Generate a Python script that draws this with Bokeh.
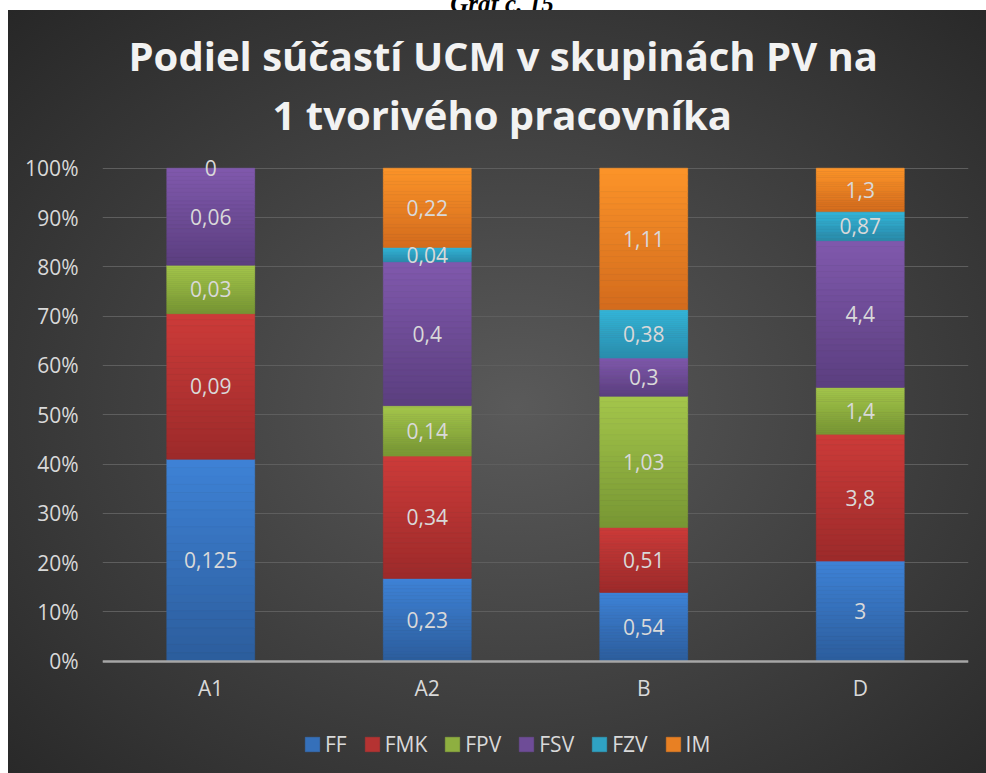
from bokeh.plotting import figure
from bokeh.models import (ColumnDataSource, Title, Legend, LegendItem, NumeralTickFormatter,
                          FixedTicker, Range1d, FactorRange, LabelSet, Div)
from bokeh.layouts import column
from bokeh.core.properties import value
from bokeh.embed import file_html
from bokeh.resources import INLINE

# ---- data ----
categories = ["A1", "A2", "B", "D"]
series = ["FF", "FMK", "FPV", "FSV", "FZV", "IM"]
FF = [0.125, 0.23, 0.54, 3]
FMK = [0.09, 0.34, 0.51, 3.8]
FPV = [0.03, 0.14, 1.03, 1.4]
FSV = [0.06, 0.4, 0.3, 4.4]
FZV = [0, 0.04, 0.38, 0.87]
IM = [None, 0.22, 1.11, 1.3]
y_ticks = [0, 0.1, 0.2, 0.3, 0.4, 0.5, 0.6, 0.7, 0.8, 0.9, 1.0]
title_line1 = "Podiel súčastí UCM v skupinách PV na"
title_line2 = "1 tvorivého pracovníka"
caption = "Graf č. 15"

# ---- styles ----
colors_top = ["#3e82d6", "#cc3b39", "#a4c64b", "#8059ad", "#34b6da", "#fc9429"]
colors_bot = ["#2c5d9c", "#9c2a2a", "#779633", "#5b3e7f", "#2a8cab", "#d36b1d"]
FONT = "Open Sans"
TXT = "#d9d9d9"

values = [FF, FMK, FPV, FSV, FZV, IM]
totals = [sum((s[i] or 0) for s in values) for i in range(len(categories))]


def hex2rgb(h):
    h = h.lstrip("#")
    return tuple(int(h[i:i + 2], 16) for i in (0, 2, 4))


def mix(c0, c1, t):
    a, b = hex2rgb(c0), hex2rgb(c1)
    return "#%02x%02x%02x" % tuple(int(round(a[i] + (b[i] - a[i]) * t)) for i in range(3))


# frame extends below 0 so the legend can sit inside it; the x axis is pinned at 0
p = figure(width=978, height=763, x_range=FactorRange(*categories), y_range=Range1d(-0.2277, 1.04),
           output_backend="svg", toolbar_location=None,
           min_border_left=94, min_border_right=18, min_border_top=138, min_border_bottom=0)
p.styles = {"background": "radial-gradient(ellipse farthest-corner at 52% 52%, #5a5a5a 0%, #272727 100%)"}
p.margin = (0, 0, 0, 8)
p.border_fill_alpha = 0
p.background_fill_alpha = 0
p.outline_line_color = None

# bars (gradient bands computed from the data), one renderer per series
N = 24
lx, ly, lt = [], [], []
items = []
for si, vals in enumerate(values):
    bx, bb, bt, bc = [], [], [], []
    for ci, cat in enumerate(categories):
        v = vals[ci]
        if v is None:
            continue
        start = sum((values[k][ci] or 0) for k in range(si)) / totals[ci]
        share = v / totals[ci]
        lx.append(cat)
        ly.append(start + share / 2)
        lt.append(("%g" % v).replace(".", ","))
        if share <= 0:
            continue
        for k in range(N):
            bx.append(cat)
            bb.append(start + share * k / N)
            bt.append(start + share * (k + 1) / N)
            bc.append(mix(colors_bot[si], colors_top[si], (k + 0.5) / N))
    src = ColumnDataSource(dict(x=bx, bottom=bb, top=bt, color=bc))
    r = p.vbar(x="x", bottom="bottom", top="top", width=0.406, source=src,
               fill_color="color", line_color="color", line_width=0.6)
    items.append(LegendItem(label=series[si], renderers=[r], index=N // 2))

labels = ColumnDataSource(dict(x=lx, y=ly, text=lt))
p.add_layout(LabelSet(x="x", y="y", text="text", source=labels, text_align="center",
                      text_baseline="middle", text_color=TXT, text_font=value(FONT),
                      text_font_size="21px"))

# axes
p.yaxis.ticker = FixedTicker(ticks=y_ticks)
p.yaxis.formatter = NumeralTickFormatter(format="0%")
p.yaxis.axis_line_color = None
p.yaxis.major_tick_line_color = None
p.yaxis.minor_tick_line_color = None
p.yaxis.major_label_text_color = TXT
p.yaxis.major_label_text_font = FONT
p.yaxis.major_label_text_font_size = "21px"
p.yaxis.major_label_standoff = 18

p.xaxis.fixed_location = 0
p.xaxis.axis_line_color = "#a6a6a6"
p.xaxis.axis_line_width = 2.5
p.xaxis.major_tick_line_color = None
p.xaxis.minor_tick_line_color = None
p.xaxis.major_label_text_color = TXT
p.xaxis.major_label_text_font = FONT
p.xaxis.major_label_text_font_size = "21px"
p.xaxis.major_label_standoff = 7

p.xgrid.grid_line_color = None
p.ygrid.grid_line_color = "#5e5e5e"
p.ygrid.grid_line_width = 1.2

legend = Legend(items=items, orientation="horizontal", location=(201, 15),
                background_fill_alpha=0, border_line_color=None,
                label_text_color=TXT, label_text_font=FONT, label_text_font_size="21px",
                glyph_width=18, glyph_height=18, label_standoff=4, spacing=16,
                padding=0, margin=0)
p.add_layout(legend, "center")

# title (two lines, outermost added last); centred on the whole chart panel
p.add_layout(Title(text=title_line2, align="left", text_font=FONT, text_font_size="40px",
                   text_font_style="bold", text_color="#f2f2f2", standoff=14, offset=170), "above")
p.add_layout(Title(text=title_line1, align="left", text_font=FONT, text_font_size="40px",
                   text_font_style="bold", text_color="#f2f2f2", standoff=-10, offset=26), "above")

cap = Div(text=('<div style="font: bold italic 25px \'Liberation Serif\'; line-height: 25px; '
                'margin-top: -13px; text-align: center; width: 978px; padding-left: 10px; '
                'color: #000; white-space: nowrap;">%s</div>' % caption),
          width=978, height=10, margin=(0, 0, 0, 8), styles={"overflow": "hidden"})

layout = column(cap, p, spacing=0)
open("out.html", "w").write(file_html(layout, INLINE))
